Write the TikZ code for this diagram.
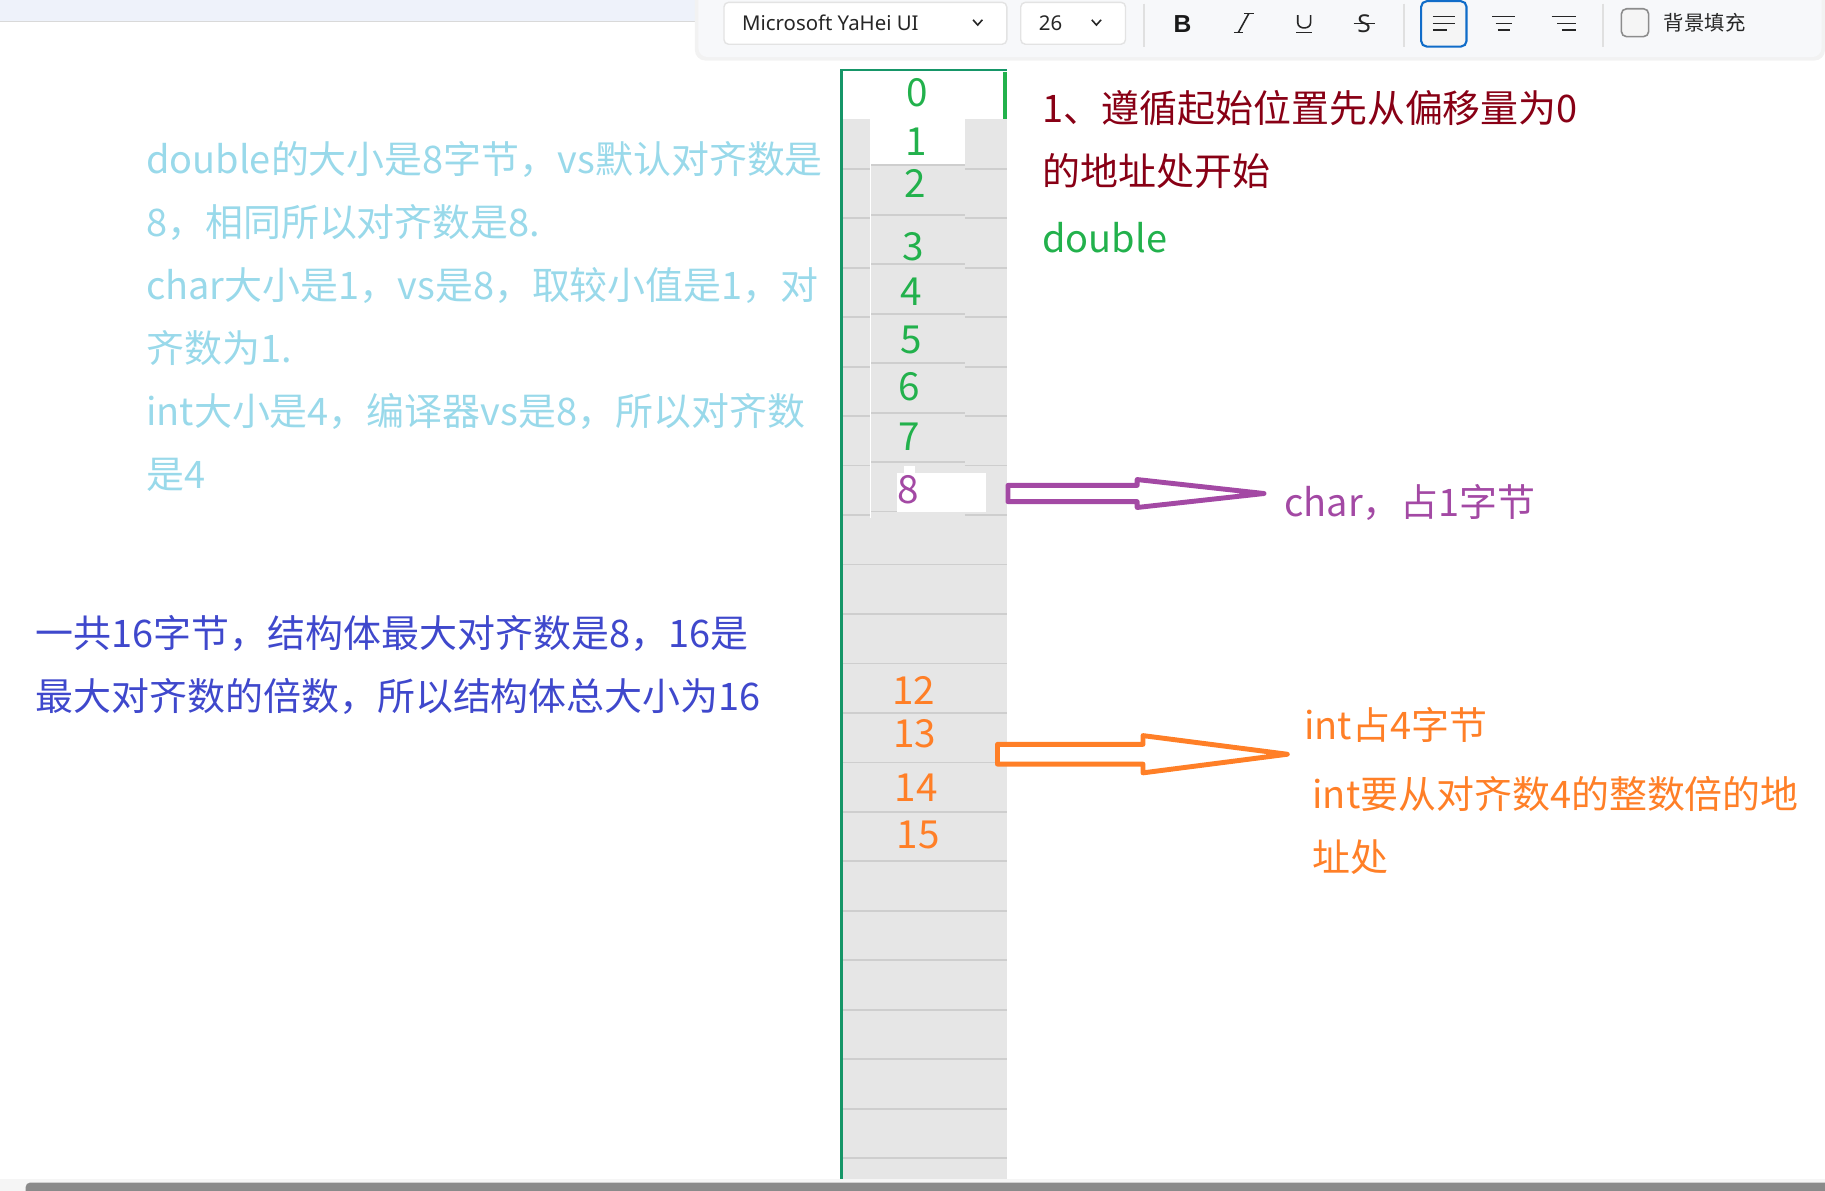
\documentclass[tikz,border=0pt]{standalone}
\usepackage{fontspec}
\setmainfont{Noto Sans CJK SC}
\newfontfamily\uifont{Noto Sans}
\newfontfamily\uiboldfont{Liberation Sans}
\definecolor{numgreen}{RGB}{34,177,76}
\definecolor{charpurple}{RGB}{163,73,164}
\definecolor{intorange}{RGB}{255,127,39}
\definecolor{rulered}{RGB}{136,0,21}
\definecolor{noteblue}{RGB}{153,217,234}
\definecolor{totalblue}{RGB}{63,72,204}
\definecolor{colline}{RGB}{22,150,104}
\definecolor{cellgray}{RGB}{230,230,230}
\definecolor{gridgray}{RGB}{206,206,206}
\definecolor{bandblue}{RGB}{238,242,250}
\definecolor{panelbg}{RGB}{247,248,250}
\definecolor{btnblue}{RGB}{16,108,200}
\definecolor{scrollgray}{RGB}{138,138,138}
\begin{document}
\begin{tikzpicture}[x=0.011639cm,y=-0.011639cm,
  note/.style={anchor=west,inner sep=0pt,align=left,font=\fontsize{10.8pt}{17.9pt}\selectfont},
  cellnum/.style={inner sep=0pt,font=\fontsize{11pt}{13pt}\selectfont},
  gridline/.style={draw=gridgray,line width=0.5pt},
  blockarrow/.style={line width=1.4pt,line join=round,fill=white},
  uitext/.style={anchor=west,inner sep=0pt,text=black!85,font=\uifont\fontsize{5.8pt}{7pt}\selectfont},
  uibox/.style={fill=white,draw=black!11,line width=0.4pt,rounded corners=1.3pt},
  uisep/.style={draw=black!12,line width=0.5pt},
  uiicon/.style={draw=black!85,line width=0.45pt}]
  \useasboundingbox (0,0) rectangle (1568,1023);

  % window band and toolbar
  \fill[bandblue] (0,0) rectangle (1568,18);
  \draw[black!15,line width=0.4pt] (0,18.5) -- (600,18.5);
  \fill[black!5,rounded corners=3pt] (597,-10) rectangle (1568,52);
  \fill[panelbg,rounded corners=2.6pt] (600,-10) rectangle (1565,49);
  \draw[uibox] (622,2) rectangle (865,38);
  \node[uitext] (fontname) at (637,20) {Microsoft YaHei UI};
  \draw[uiicon] (836,17) -- (840,21.5) -- (844,17);
  \draw[uibox] (877,2) rectangle (967,38);
  \node[uitext] (fontsize) at (892,20) {26};
  \draw[uiicon] (938,17) -- (942,21.5) -- (946,17);
  \draw[uisep] (983,3) -- (983,40);
  \node[inner sep=0pt,text=black!90,font=\uiboldfont\bfseries\fontsize{7pt}{8pt}\selectfont] (boldbtn) at (1016,20.5) {B};
  \draw[uiicon] (1073,11.5) -- (1064,27.8);
  \draw[uiicon] (1069,11.5) -- (1077,11.5);
  \draw[uiicon] (1060,27.8) -- (1068,27.8);
  \draw[uiicon] (1115,13) -- (1115,19.5) .. controls (1115,25.5) and (1126,25.5) .. (1126,19.5) -- (1126,13);
  \draw[uiicon] (1113.5,28) -- (1127.5,28);
  \node[inner sep=0pt,text=black!85,font=\uifont\fontsize{7pt}{8pt}\selectfont] (strikebtn) at (1172,20.5) {S};
  \draw[uiicon] (1163,20) -- (1181,20);
  \draw[uisep] (1206,3) -- (1206,40);
  \draw[fill=black!4,draw=btnblue,line width=0.6pt,rounded corners=1.6pt] (1221,1) rectangle (1260,40);
  \draw[uiicon] (1231,14.3) -- (1250,14.3);
  \draw[uiicon] (1231,20) -- (1250,20);
  \draw[uiicon] (1231,25.8) -- (1243,25.8);
  \draw[uiicon] (1282,14.3) -- (1302,14.3);
  \draw[uiicon] (1285,20) -- (1299,20);
  \draw[uiicon] (1287,25.8) -- (1297,25.8);
  \draw[uiicon] (1333,14.3) -- (1354,14.3);
  \draw[uiicon] (1338,20) -- (1354,20);
  \draw[uiicon] (1342,25.8) -- (1354,25.8);
  \draw[uisep] (1377,3) -- (1377,40);
  \draw[fill=black!4,draw=black!45,line width=0.45pt,rounded corners=1.5pt] (1393,7.5) rectangle (1416.5,31.5);
  \node[uitext,font=\fontsize{5.8pt}{7pt}\selectfont] (fillopt) at (1429,19.5) {背景填充};

  % memory column
  \fill[cellgray] (723,102) rectangle (865,1013);
  \fill[white] (748,102) rectangle (829,142.5);
  \foreach \k in {10,...,22}
    \draw[gridline] (724,{60+42.5*\k}) -- (865,{60+42.5*\k});
  \foreach \k in {2,...,9} {
    \draw[gridline] (724,{60+42.5*\k}) -- (748,{60+42.5*\k});
    \draw[gridline] (829,{60+42.5*\k}) -- (865,{60+42.5*\k});
    \draw[gridline] (748,{57+42.5*\k}) -- (829,{57+42.5*\k});
  }
  \draw[white,line width=0.5pt] (748,102) -- (748,445);
  \fill[white] (771,406) rectangle (847,440);
  \fill[white] (777,400) rectangle (786,407);
  \draw[colline,line width=0.7pt] (723,1013) -- (723,60) -- (865,60);
  \fill[numgreen] (862,62) rectangle (865.5,102);

  % offsets
  \foreach \n/\x/\y in {0/788/80,1/787/122,2/786/158,3/785/212,4/783/251,5/783/292,6/781/332,7/781/375}
    \node[cellnum,text=numgreen] (off\n) at (\x,\y) {\n};
  \node[cellnum,text=charpurple] (off8) at (780,421) {8};
  \foreach \n/\x/\y in {12/785/593,13/786/630,14/787/677,15/789/717}
    \node[cellnum,text=intorange] (off\n) at (\x,\y) {\n};

  % arrows
  \draw[blockarrow,draw=charpurple] (866,417) -- (977,417) -- (977,412) -- (1086,424) -- (977,436) -- (977,431) -- (866,431) -- cycle;
  \draw[blockarrow,draw=intorange] (857,639.5) -- (982,639.5) -- (982,632) -- (1106,648) -- (982,664) -- (982,656.5) -- (857,656.5) -- cycle;

  % notes
  \node[note,text=noteblue] (sizenote) at (125,272) {double的大小是8字节，vs默认对齐数是\\8，相同所以对齐数是8.\\char大小是1，vs是8，取较小值是1，对\\齐数为1.\\int大小是4，编译器vs是8，所以对齐数\\是4};
  \node[note,text=totalblue] (totalnote) at (30,571.5) {一共16字节，结构体最大对齐数是8，16是\\最大对齐数的倍数，所以结构体总大小为16};
  \node[note,text=rulered] (rulenote) at (895,120) {1、遵循起始位置先从偏移量为0\\的地址处开始};
  \node[note,text=numgreen] (dbllbl) at (895,204) {double};
  \node[note,text=charpurple] (charlbl) at (1103,432) {char，占1字节};
  \node[note,text=intorange] (intlbl) at (1120,623) {int占4字节};
  \node[note,text=intorange] (intnote) at (1127,709.5) {int要从对齐数4的整数倍的地\\址处};

  % scrollbar
  \fill[black!4] (0,1013) rectangle (1568,1023);
  \fill[scrollgray,rounded corners=1.3pt] (22,1016) rectangle (1575,1030);
\end{tikzpicture}
\end{document}
